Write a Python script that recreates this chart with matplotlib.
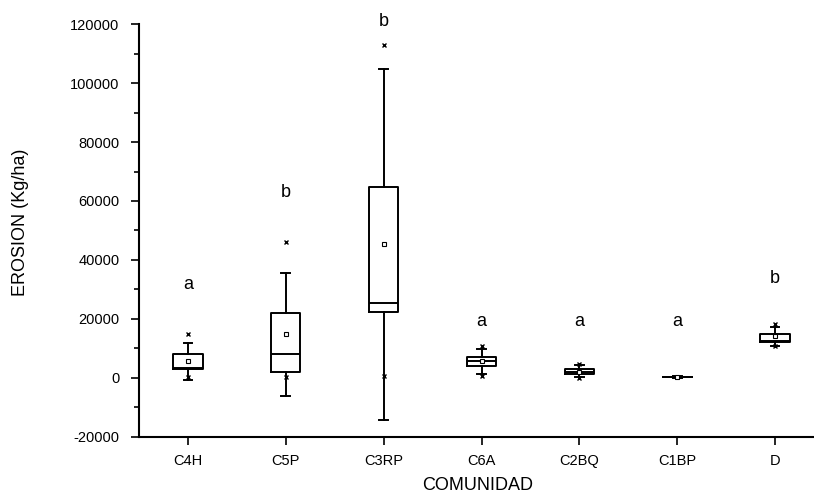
import matplotlib.pyplot as plt

# comunidades y estadisticos de erosion (Kg/ha)
categorias = ["C4H", "C5P", "C3RP", "C6A", "C2BQ", "C1BP", "D"]
q1 = [2900, 2100, 22300, 4100, 1400, 200, 12200]
mediana = [3500, 8000, 25300, 5600, 2200, 300, 12500]
q3 = [8000, 22000, 64900, 7100, 2900, 450, 15000]
media = [5700, 15000, 45300, 5700, 2100, 330, 14100]
bigote_inf = [-600, -6000, -14200, 1200, 500, 100, 10700]
bigote_sup = [12000, 35700, 104800, 9800, 4300, 600, 17200]
minimo = [300, 200, 700, 600, 100, 300, 10700]
maximo = [15000, 46000, 112900, 10700, 4800, 500, 18200]
letras = ["a", "b", "b", "a", "a", "a", "b"]
y_letras = [30100, 61500, 119300, 17600, 17600, 17600, 32100]

plt.rcParams['font.family'] = ['Liberation Sans', 'DejaVu Sans']
plt.rcParams['axes.unicode_minus'] = False

fig = plt.figure(figsize=(8.14, 4.98), dpi=100)
ax = fig.add_axes([0.1708, 0.1225, 0.8415, 0.8293])

stats = []
for i, c in enumerate(categorias):
    stats.append({
        "label": c, "q1": q1[i], "med": mediana[i], "q3": q3[i],
        "mean": media[i], "whislo": bigote_inf[i], "whishi": bigote_sup[i],
        "fliers": [minimo[i], maximo[i]],
    })

ax.bxp(stats, positions=range(len(categorias)), widths=0.3, capwidths=0.09,
       showmeans=True, showfliers=True,
       boxprops=dict(color="black", linewidth=1.4),
       medianprops=dict(color="black", linewidth=1.4),
       whiskerprops=dict(color="black", linewidth=1.4),
       capprops=dict(color="black", linewidth=1.4),
       meanprops=dict(marker="s", markersize=3.5, markerfacecolor="white",
                      markeredgecolor="black", markeredgewidth=0.8),
       flierprops=dict(marker="x", markersize=3.5, markeredgecolor="black",
                       markeredgewidth=1.0))

for i, t in enumerate(letras):
    ax.text(i, y_letras[i], t, ha="center", va="baseline", fontsize=13,
            clip_on=False)

ax.set_xlim(-0.5, 6.5)
ax.set_ylim(-20000, 120000)
ax.set_yticks(range(-20000, 120001, 20000))
ax.set_yticks(range(-10000, 120000, 20000), minor=True)
ax.set_xticks(range(len(categorias)))
ax.set_xticklabels(categorias)

for s in ["top", "right"]:
    ax.spines[s].set_visible(False)
for s in ["left", "bottom"]:
    ax.spines[s].set_linewidth(1.5)

ax.tick_params(axis="both", which="major", direction="out", length=6,
               width=1.2, labelsize=10.5)
ax.tick_params(axis="y", which="major", pad=8)
ax.tick_params(axis="x", which="major", pad=6)
ax.tick_params(axis="y", which="minor", direction="out", length=3.5, width=1.2)

ax.set_xlabel("COMUNIDAD", fontsize=13)
ax.set_ylabel("EROSION (Kg/ha)", fontsize=13)
ax.xaxis.set_label_coords(0.495, -0.097)
ax.yaxis.set_label_coords(-0.16, 0.52)

plt.savefig("out.png", dpi=100)
